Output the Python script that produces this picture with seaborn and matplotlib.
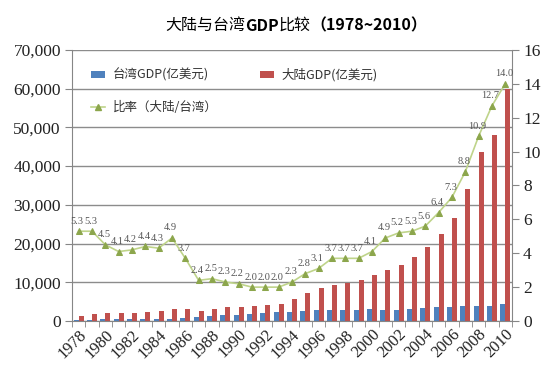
import numpy as np
import pandas as pd
import seaborn as sns
import matplotlib.pyplot as plt
from matplotlib.ticker import FuncFormatter
from matplotlib.lines import Line2D
from matplotlib.patches import Patch

serif = 'Liberation Serif'
cjk = 'Noto Sans CJK SC'
plt.rcParams['font.family'] = serif

# -------------------------
# data (亿美元)
# -------------------------
years = list(range(1978, 2011))
taiwan = [260, 330, 420, 480, 490, 530, 600, 620, 790, 1050, 1250, 1500, 1650,
          1850, 2150, 2250, 2450, 2650, 2800, 2900, 2750, 2950, 3200, 2950,
          2950, 3050, 3300, 3500, 3650, 3850, 4000, 3800, 4300]
mainland = [1350, 1700, 1950, 1950, 2100, 2300, 2600, 3000, 3000, 2650, 3100,
            3500, 3550, 3900, 4250, 4450, 5600, 7300, 8400, 9400, 9900, 10500,
            11900, 13200, 14400, 16500, 19100, 22400, 26600, 34100, 43700,
            48000, 60000]
ratio = [5.3, 5.3, 4.5, 4.1, 4.2, 4.4, 4.3, 4.9, 3.7, 2.4, 2.5, 2.3, 2.2, 2.0,
         2.0, 2.0, 2.3, 2.8, 3.1, 3.7, 3.7, 3.7, 4.1, 4.9, 5.2, 5.3, 5.6, 6.4,
         7.3, 8.8, 10.9, 12.7, 14.0]
series_names = ['台湾GDP(亿美元)', '大陆GDP(亿美元)']
ratio_name = '比率（大陆/台湾）'

blue = '#4F81BD'
red = '#C0504D'
line_col = '#BFD48A'
marker_col = '#8CA64C'
grey = '#868686'

df = pd.DataFrame({
    'year': years * 2,
    'gdp': taiwan + mainland,
    'who': [series_names[0]] * len(years) + [series_names[1]] * len(years),
})

# -------------------------
# figure
# -------------------------
fig = plt.figure(figsize=(5.54, 3.77), dpi=100)
ax = fig.add_axes([0.130, 0.1485, 0.794, 0.719])

sns.barplot(data=df, x='year', y='gdp', hue='who', palette=[blue, red],
            width=0.75, gap=0, saturation=1, legend=False, ax=ax)

ax.set_ylim(0, 70000)
ax.set_yticks(range(0, 70001, 10000))
ax.yaxis.set_major_formatter(FuncFormatter(lambda v, p: f'{int(v):,}'))
ax.set_xlim(-0.5, len(years) - 0.5)
ax.set_xticks(range(0, len(years), 2))
ax.set_xticklabels([str(y) for y in years[::2]], rotation=45, ha='right',
                   rotation_mode='anchor', fontsize=12)
ax.set_xticks(np.arange(-0.5, len(years), 1), minor=True)
ax.tick_params(axis='x', which='major', length=0, pad=4, labelcolor='#222222')
ax.tick_params(axis='x', which='minor', length=4, color=grey)
ax.tick_params(axis='y', length=5, color=grey, labelsize=12.5, pad=3,
               labelcolor='#222222')
ax.set_xlabel('')
ax.set_ylabel('')
ax.yaxis.grid(True, color='#8c8c8c', lw=1)
ax.set_axisbelow(True)
for s in ['top', 'right']:
    ax.spines[s].set_visible(False)
for s in ['left', 'bottom']:
    ax.spines[s].set_color(grey)

# ratio line on right axis
ax2 = ax.twinx()
x_pos = np.arange(len(years))
sns.lineplot(x=x_pos, y=ratio, ax=ax2, color=line_col, lw=1.2, marker='^',
             markersize=4, markerfacecolor=marker_col, markeredgecolor=marker_col)
for i, r in enumerate(ratio):
    ax2.annotate(f'{r:.1f}', (i, r), xytext=(-1, 4), textcoords='offset points',
                 ha='center', va='bottom', fontsize=7.5, color='#555555')
ax2.set_ylim(0, 16)
ax2.set_yticks(range(0, 17, 2))
ax2.tick_params(axis='y', length=5, color=grey, labelsize=12.5, pad=3,
                labelcolor='#222222')
ax2.set_ylabel('')
for s in ['top', 'left', 'bottom']:
    ax2.spines[s].set_visible(False)
ax2.spines['right'].set_color(grey)

# legend
handles = [
    Patch(facecolor=blue),
    Line2D([], [], color=line_col, lw=1.2, marker='^', markersize=4,
           markerfacecolor=marker_col, markeredgecolor=marker_col),
    Patch(facecolor=red),
]
labels = [series_names[0], ratio_name, series_names[1]]
ax2.legend(handles, labels, ncol=2, loc='upper left', bbox_to_anchor=(0.03, 0.955),
           frameon=False, prop={'family': cjk, 'size': 9},
           labelspacing=1.5, columnspacing=3.4, handlelength=1.1,
           handleheight=0.55, handletextpad=0.6, borderpad=0, labelcolor='#333333')

# title, pieces chained so weights can differ
t1 = fig.text(0.298, 0.933, '大陆与台湾', fontsize=11.5, family=cjk, va='center')
t2 = ax.annotate('GDP', xy=(1, 0), xycoords=t1, va='bottom', fontsize=11.5,
                 family=cjk, fontweight='bold')
t3 = ax.annotate('比较', xy=(1, 0), xycoords=t2, va='bottom', fontsize=11.5,
                 family=cjk)
ax.annotate('（1978~2010）', xy=(1, 0), xycoords=t3, va='bottom', fontsize=11.5,
            family=cjk, fontweight='bold')

fig.savefig('out.png', dpi=100)
